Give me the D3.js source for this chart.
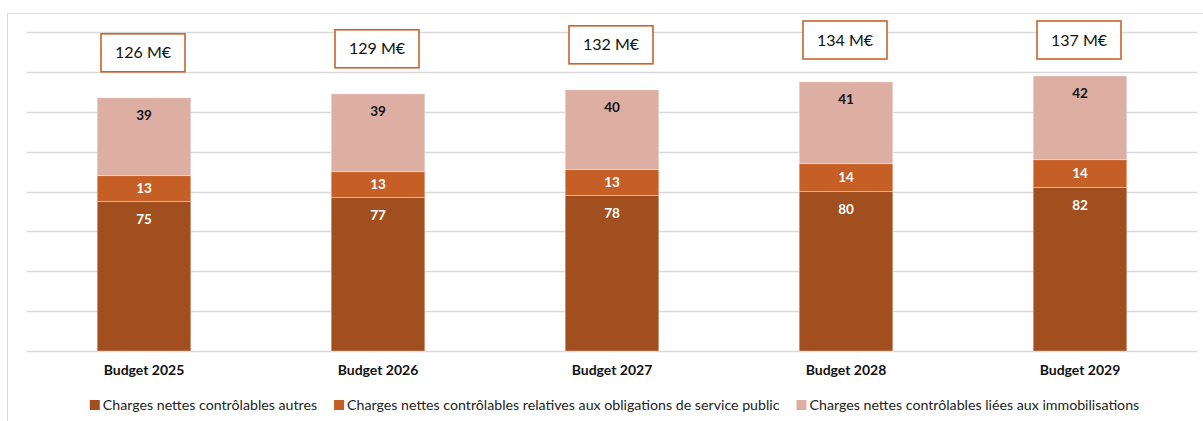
<!DOCTYPE html>
<html>
<head>
<meta charset="utf-8">
<script src="https://cdn.jsdelivr.net/npm/d3@7"></script>
<style>
  html, body { margin: 0; padding: 0; background: #fff; }
  svg { display: block; font-family: Lato, "Open Sans", sans-serif; }
</style>
</head>
<body>
<svg id="chart" width="1203" height="421"></svg>
<script>
// Budget categories and stacked components (M€)
const categories = ["Budget 2025", "Budget 2026", "Budget 2027", "Budget 2028", "Budget 2029"];
const seriesNames = [
  "Charges nettes contrôlables autres",
  "Charges nettes contrôlables relatives aux obligations de service public",
  "Charges nettes contrôlables liées aux immobilisations"
];
const autres = [75, 77, 78, 80, 82];
const obligations = [13, 13, 13, 14, 14];
const immobilisations = [39, 39, 40, 41, 42];
const totalLabels = ["126 M€", "129 M€", "132 M€", "134 M€", "137 M€"];
const yTicks = [0, 20, 40, 60, 80, 100, 120, 140, 160];

const colors = ["#A24F20", "#C55F26", "#DDAFA3"];
const labelColors = ["#ffffff", "#ffffff", "#111111"];

const svg = d3.select("#chart");
const W = 1203, H = 421;

// chart frame
svg.append("path")
  .attr("d", `M7.5,${H} V13.5 H${W}`)
  .attr("fill", "none").attr("stroke", "#d9d9d9").attr("stroke-width", 1);

const x = d3.scaleBand().domain(categories).range([27, 1197])
  .paddingInner(0.6).paddingOuter(0.3);
const y = d3.scaleLinear().domain([0, 160]).range([351, 32]);

// horizontal gridlines
svg.append("g").selectAll("line").data(yTicks).join("line")
  .attr("x1", 27).attr("x2", 1197)
  .attr("y1", d => Math.round(y(d)) + 0.5).attr("y2", d => Math.round(y(d)) + 0.5)
  .attr("stroke", "#d9d9d9").attr("stroke-width", 1.3);

// stacked data
const rows = categories.map((c, i) => ({
  cat: c, autres: autres[i], obligations: obligations[i], immobilisations: immobilisations[i]
}));
const keys = ["autres", "obligations", "immobilisations"];
const stacked = d3.stack().keys(keys)(rows);

const gBars = svg.append("g");
stacked.forEach((layer, k) => {
  const g = gBars.append("g");
  g.selectAll("rect").data(layer).join("rect")
    .attr("x", d => x(d.data.cat))
    .attr("width", x.bandwidth())
    .attr("y", d => y(d[1]))
    .attr("height", d => y(d[0]) - y(d[1]))
    .attr("fill", colors[k])
    .attr("stroke", "rgba(255,255,255,0.35)")
    .attr("stroke-width", 1);
});

// segment value labels (inside end)
stacked.forEach((layer, k) => {
  svg.append("g").selectAll("text").data(layer).join("text")
    .attr("x", d => x(d.data.cat) + x.bandwidth() / 2)
    .attr("y", d => {
      const top = y(d[1]), h = y(d[0]) - y(d[1]);
      return top + Math.min(17.5, h / 2);
    })
    .attr("dy", "0.35em")
    .attr("text-anchor", "middle")
    .attr("font-size", 13.5)
    .attr("font-weight", "bold")
    .attr("fill", labelColors[k])
    .text(d => d.data[keys[k]]);
});

// total boxes above each bar
const totals = stacked[stacked.length - 1];
const boxW = 84, boxH = 38;
const gTot = svg.append("g").selectAll("g").data(totals).join("g")
  .attr("transform", (d, i) => {
    const cx = x(d.data.cat) + x.bandwidth() / 2 - 1;
    const cy = Math.max(y(d[1]) - 45, 40);
    return `translate(${cx},${cy})`;
  });
gTot.append("rect")
  .attr("x", -boxW / 2).attr("y", -boxH / 2)
  .attr("width", boxW).attr("height", boxH)
  .attr("fill", "#fff").attr("stroke", "#C8632B").attr("stroke-width", 1.6);
gTot.append("text")
  .attr("text-anchor", "middle").attr("dy", "0.35em")
  .attr("font-size", 16).attr("fill", "#111")
  .text((d, i) => totalLabels[i]);

// category axis labels
svg.append("g").selectAll("text").data(categories).join("text")
  .attr("x", d => x(d) + x.bandwidth() / 2)
  .attr("y", 370).attr("dy", "0.35em")
  .attr("text-anchor", "middle")
  .attr("font-size", 14).attr("font-weight", "bold").attr("fill", "#111")
  .text(d => d);

// legend
const legend = svg.append("g");
const items = legend.selectAll("g").data(seriesNames).join("g");
items.append("rect").attr("width", 10).attr("height", 10).attr("y", -5)
  .attr("fill", (d, i) => colors[i]);
items.append("text").attr("x", 13).attr("dy", "0.35em")
  .attr("font-size", 14.2).attr("fill", "#222")
  .text(d => d);
let widths = [];
items.each(function () { widths.push(13 + this.querySelector("text").getComputedTextLength()); });
const gap = 17;
const totalW = d3.sum(widths) + gap * (widths.length - 1);
let cursor = 614.5 - totalW / 2;
items.attr("transform", (d, i) => {
  const t = `translate(${cursor},405)`;
  cursor += widths[i] + gap;
  return t;
});
</script>
</body>
</html>
